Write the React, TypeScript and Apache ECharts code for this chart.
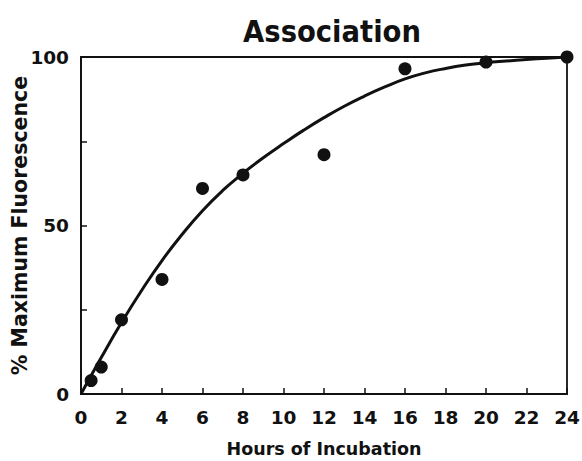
import React, { useEffect, useRef } from "react";
import * as echarts from "echarts";

// Measured data points (hours, % maximum fluorescence)
const pointHours = [0.5, 1, 2, 4, 6, 8, 12, 16, 20, 24];
const pointValues = [4, 8, 22, 34, 61, 65, 71, 96.5, 98.5, 100];

// Fitted curve
const curveHours = [0, 1, 2, 3, 4, 5, 6, 7, 8, 9, 10, 11, 12, 13, 14, 15, 16, 17, 18, 19, 20, 21, 22, 23, 24];
const curveValues = [0, 10.8, 21.2, 30.8, 39.6, 47.4, 54.4, 60.4, 65.5, 70.1, 74.3, 78.3, 82.0, 85.4, 88.4, 91.1, 93.5, 95.3, 96.6, 97.6, 98.3, 98.8, 99.25, 99.65, 100];

const xTicks = [0, 2, 4, 6, 8, 10, 12, 14, 16, 18, 20, 22, 24];
const yLabelValues = [0, 50, 100];

const titleText = "Association";
const xName = "Hours of Incubation";
const yName = "% Maximum Fluorescence";

export default function App() {
  const ref = useRef<HTMLDivElement>(null);
  useEffect(() => {
    if (!ref.current) return;
    const chart = echarts.init(ref.current, null, { renderer: "svg" });
    const ink = "#111";
    const font = "DejaVu Sans, Liberation Sans, sans-serif";
    chart.setOption({
      animation: false,
      backgroundColor: "#fff",
      title: {
        text: titleText,
        left: 327,
        top: 11,
        textAlign: "center",
        textStyle: {
          fontFamily: "Liberation Sans Narrow, DejaVu Sans Condensed, Liberation Sans, sans-serif",
          fontWeight: "bold",
          fontSize: 30.5,
          color: ink,
        },
      },
      grid: {
        left: 81,
        right: 15,
        top: 57,
        bottom: 67,
        outerBoundsMode: "none",
        containLabel: false,
        show: true,
        borderColor: ink,
        borderWidth: 1.8,
        backgroundColor: "transparent",
      },
      xAxis: {
        type: "value",
        min: xTicks[0],
        max: xTicks[xTicks.length - 1],
        interval: 2,
        name: xName,
        nameLocation: "middle",
        nameGap: 46,
        nameTextStyle: { fontFamily: font, fontWeight: "bold", fontSize: 17.5, color: ink },
        axisLine: { show: true, lineStyle: { color: ink, width: 1.8 } },
        axisTick: { show: true, inside: true, length: 6, lineStyle: { color: ink, width: 1.5 } },
        axisLabel: { margin: 14, fontFamily: font, fontWeight: "bold", fontSize: 18.5, color: ink },
        splitLine: { show: false },
      },
      yAxis: {
        type: "value",
        min: 0,
        max: 100,
        interval: 25,
        name: yName,
        nameLocation: "middle",
        nameGap: 51,
        nameMoveOverlap: false,
        nameTextStyle: { fontFamily: font, fontWeight: "bold", fontSize: 20.5, color: ink },
        axisLine: { show: true, lineStyle: { color: ink, width: 1.8 } },
        axisTick: { show: true, inside: true, length: 6, lineStyle: { color: ink, width: 1.5 } },
        axisLabel: {
          margin: 12,
          fontFamily: font,
          fontWeight: "bold",
          fontSize: 18.5,
          color: ink,
          formatter: (v: number) => (yLabelValues.includes(v) ? String(v) : ""),
        },
        splitLine: { show: false },
      },
      series: [
        {
          type: "line",
          data: curveHours.map((h, i) => [h, curveValues[i]]),
          smooth: true,
          showSymbol: false,
          lineStyle: { color: ink, width: 3 },
          z: 2,
        },
        {
          type: "scatter",
          data: pointHours.map((h, i) => [h, pointValues[i]]),
          symbol: "circle",
          symbolSize: 13,
          itemStyle: { color: ink, opacity: 1 },
          z: 3,
        },
      ],
    });
    return () => chart.dispose();
  }, []);
  return (
    <div
      ref={ref}
      style={{ position: "fixed", left: 0, top: 0, width: 582, height: 461, background: "#fff" }}
    />
  );
}
